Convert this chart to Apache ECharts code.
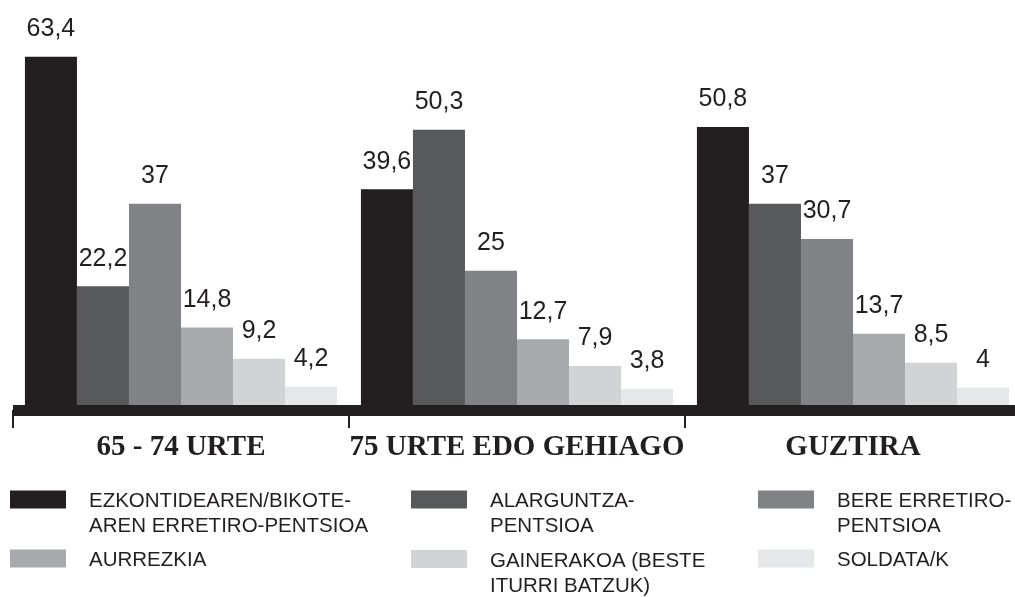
<!DOCTYPE html>
<html>
<head>
<meta charset="utf-8">
<script src="https://cdn.jsdelivr.net/npm/echarts@6/dist/echarts.min.js"></script>
<style>
  html, body { margin: 0; padding: 0; background: #fff; }
  #chart { width: 1015px; height: 597px; }
</style>
</head>
<body>
<div id="chart"></div>
<script>
// adin taldeak
var categories = ['65 - 74 URTE', '75 URTE EDO GEHIAGO', 'GUZTIRA'];

// diru-sarrera iturriak (%)
var seriesNames = ['EZKONTIDEAREN/BIKOTEAREN ERRETIRO-PENTSIOA', 'ALARGUNTZA-PENTSIOA', 'BERE ERRETIRO-PENTSIOA', 'AURREZKIA', 'GAINERAKOA (BESTE ITURRI BATZUK)', 'SOLDATA/K'];
var legendLabels = [
  ['EZKONTIDEAREN/BIKOTE-', 'AREN ERRETIRO-PENTSIOA'],
  ['ALARGUNTZA-', 'PENTSIOA'],
  ['BERE ERRETIRO-', 'PENTSIOA'],
  ['AURREZKIA'],
  ['GAINERAKOA (BESTE', 'ITURRI BATZUK)'],
  ['SOLDATA/K']
];

var ezkontidea = [63.4, 39.6, 50.8];
var alarguntza = [22.2, 50.3, 37];
var berePentsioa = [37, 25, 30.7];
var aurrezkia = [14.8, 12.7, 13.7];
var gainerakoa = [9.2, 7.9, 8.5];
var soldata = [4.2, 3.8, 4];

var seriesData = [ezkontidea, alarguntza, berePentsioa, aurrezkia, gainerakoa, soldata];
var colors = ['#231f20', '#58595b', '#808285', '#a7a9ac', '#d1d3d4', '#e6e7e8'];

var myChart = echarts.init(document.getElementById('chart'));

var series = seriesData.map(function (d, i) {
  return {
    name: seriesNames[i],
    type: 'bar',
    data: d,
    barGap: '0%',
    barCategoryGap: '7.1%',
    itemStyle: { color: colors[i] },
    label: {
      show: true,
      position: 'top',
      distance: 15,
      color: '#231f20',
      fontFamily: 'Liberation Sans',
      fontSize: 25,
      formatter: function (p) { return String(p.value).replace('.', ','); }
    }
  };
});

// leyenda: 3 zutabe x 2 errenkada, bakoitza bere legend-ean
var colLeft = [10, 411, 758];
var iconCenter = [500, 559.5];
var legends = seriesNames.map(function (name, i) {
  var col = i % 3, row = Math.floor(i / 3);
  var lines = legendLabels[i];
  var spH = lines.length > 1 ? 29 : 4;
  var blockH = spH + 25 * lines.length;
  return {
    data: [name],
    left: colLeft[col],
    top: iconCenter[row] - blockH / 2 + (lines.length > 1 ? 13 : 0),
    padding: 0,
    icon: 'rect',
    itemWidth: 56,
    itemHeight: 18,
    selectedMode: false,
    formatter: function () {
      return '{sp| }\n' + lines.map(function (l) { return '{t|' + l + '}'; }).join('\n');
    },
    textStyle: {
      rich: {
        sp: { fontSize: 2, lineHeight: spH },
        t: {
          color: '#231f20',
          fontFamily: 'Liberation Sans',
          fontSize: 20.5,
          lineHeight: 25,
          padding: [0, 0, 0, 18]
        }
      }
    }
  };
});

var option = {
  animation: false,
  grid: { left: 13, width: 1008, top: 20, bottom: 187, outerBoundsMode: 'none' },
  legend: legends,
  xAxis: {
    type: 'category',
    data: categories,
    z: 10,
    axisLine: { lineStyle: { color: '#231f20', width: 11, cap: 'butt' } },
    axisTick: { show: true, interval: 0, length: 18, lineStyle: { color: '#231f20', width: 2 } },
    axisLabel: {
      interval: 0,
      margin: 23,
      color: '#231f20',
      fontFamily: 'Liberation Serif',
      fontWeight: 'bold',
      fontSize: 29
    }
  },
  yAxis: {
    type: 'value',
    min: 0,
    max: 70,
    show: false,
    splitLine: { show: false }
  },
  series: series
};

myChart.setOption(option);
</script>
</body>
</html>
